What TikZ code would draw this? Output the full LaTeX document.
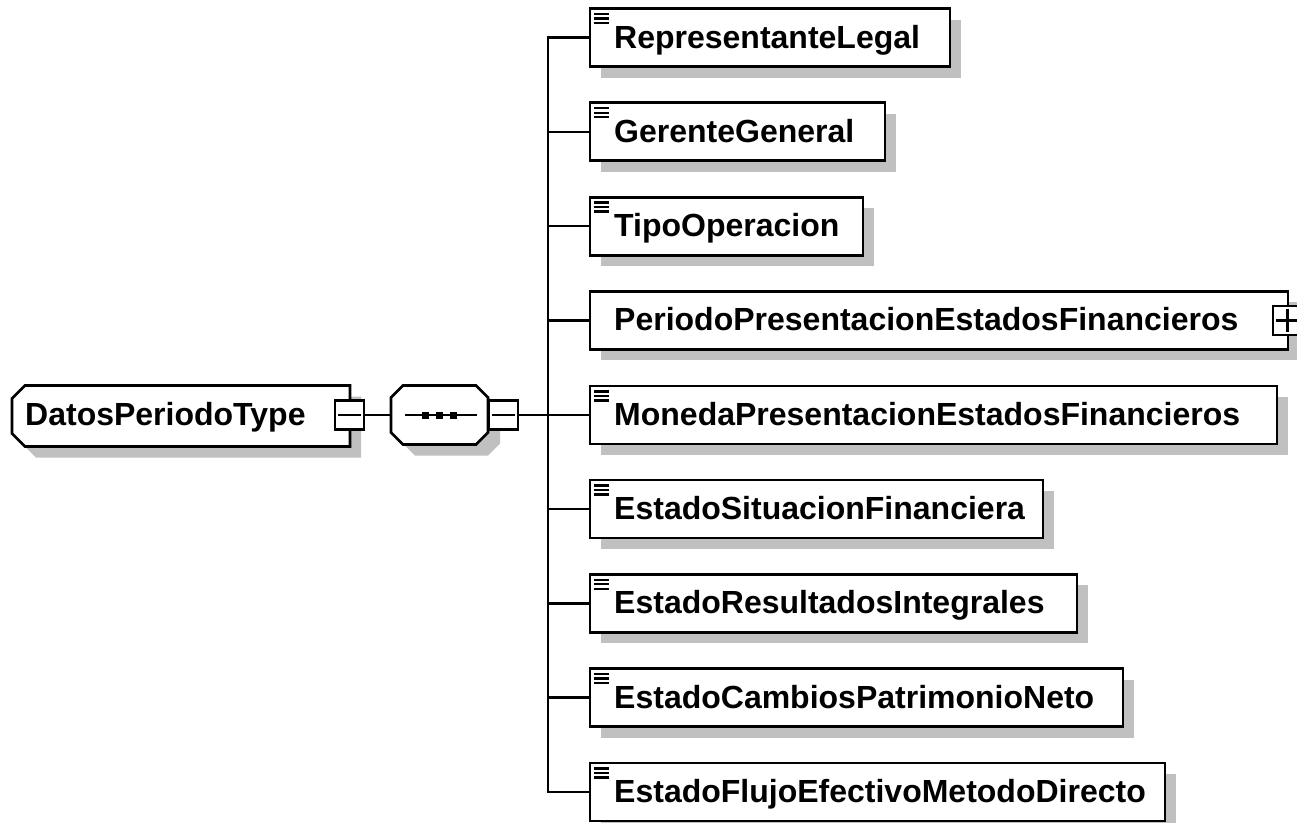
\documentclass[tikz,border=0pt]{standalone}
\usepackage{fontspec}
\setmainfont{Liberation Sans}
\usetikzlibrary{shadows}
\definecolor{shgray}{HTML}{C0C0C0}
\tikzset{
  shd/.style={drop shadow={shadow xshift=11pt,shadow yshift=-11pt,fill=shgray,opacity=1}},
  elbox/.style={draw, fill=white, line width=2.8pt, rectangle, inner sep=0pt, outer sep=0pt, minimum height=58pt, anchor=west, shd},
  hold/.style={draw=none, rectangle, inner sep=0pt, outer sep=0pt},
  outl/.style={draw, fill=white, line width=2.8pt},
  shfill/.style={fill=shgray},
  ctrl/.style={draw, fill=white, line width=2.6pt, rectangle, inner sep=0pt, outer sep=0pt, minimum width=29pt, minimum height=29pt},
  lbl/.style={anchor=base west, inner sep=0pt, font=\fontsize{32}{36}\selectfont\bfseries},
  conn/.style={line width=2.5pt},
  icon/.style={line width=2.3pt},
}
% chamfered outline of the root (left corners cut), offset #1,#2, style #3
\newcommand\rootshape[3]{\path[#3]
  ([shift={(#1,#2)}]rootbox.north east) -- ([shift={(#1+13,#2)}]rootbox.north west)
  -- ([shift={(#1,#2+13)}]rootbox.north west) -- ([shift={(#1,#2-13)}]rootbox.south west)
  -- ([shift={(#1+13,#2)}]rootbox.south west) -- ([shift={(#1,#2)}]rootbox.south east) -- cycle;}
% octagon of the sequence compositor
\newcommand\seqshape[3]{\path[#3]
  ([shift={(#1-12,#2)}]seq.north east) -- ([shift={(#1+12,#2)}]seq.north west)
  -- ([shift={(#1,#2+12)}]seq.north west) -- ([shift={(#1,#2-12)}]seq.south west)
  -- ([shift={(#1+12,#2)}]seq.south west) -- ([shift={(#1-12,#2)}]seq.south east)
  -- ([shift={(#1,#2-12)}]seq.south east) -- ([shift={(#1,#2+12)}]seq.north east) -- cycle;}
\begin{document}
\begin{tikzpicture}[x=1pt,y=-1pt]
\useasboundingbox (0,0) rectangle (1297,822);
% root element
\node[hold, minimum width=338pt, minimum height=61pt] (rootbox) at (181,416) {};
\rootshape{11}{11}{shfill}
\rootshape{0}{0}{outl}
\node[lbl] (rootl) at (25,425) {DatosPeriodoType};
\node[ctrl] (rm) at (349.5,415) {};
\draw[conn] ([xshift=3pt]rm.west) -- ([xshift=-3pt]rm.east);
% sequence compositor
\node[hold, minimum width=97pt, minimum height=59pt] (seq) at (439.5,415) {};
\seqshape{12}{11}{shfill}
\seqshape{0}{0}{outl}
\draw[conn] ([xshift=14pt]seq.west) -- ([xshift=-11pt]seq.east);
\foreach \dx in {-14,0,14} {
  \fill ([shift={(\dx-3.5,-3.5)}]seq.center) rectangle ++(7,7);
}
\node[ctrl] (sm) at (503.5,415) {};
\draw[conn] ([xshift=3pt]sm.west) -- ([xshift=-3pt]sm.east);
\coordinate (j) at (548,415);
% children
\node[elbox, minimum width=360pt] (c1) at (590,37.5) {};
\node[elbox, minimum width=295pt] (c2) at (590,131.8) {};
\node[elbox, minimum width=273pt] (c3) at (590,226.1) {};
\node[elbox, minimum width=698pt] (c4) at (590,320.4) {};
\node[elbox, minimum width=687pt] (c5) at (590,415) {};
\node[elbox, minimum width=453pt] (c6) at (590,509) {};
\node[elbox, minimum width=487pt] (c7) at (590,603.3) {};
\node[elbox, minimum width=533pt] (c8) at (590,697.6) {};
\node[elbox, minimum width=575pt] (c9) at (590,791.9) {};
\node[ctrl] (pp) at (1287.5,320.4) {};
\draw[conn] ([xshift=3pt]pp.west) -- ([xshift=-3pt]pp.east);
\draw[conn] ([yshift=-3pt]pp.north) -- ([yshift=3pt]pp.south);
% labels
\node[lbl] (c1l) at (614,48) {RepresentanteLegal};
\node[lbl] (c2l) at (614,142.3) {GerenteGeneral};
\node[lbl] (c3l) at (614,236.6) {TipoOperacion};
\node[lbl] (c4l) at (614,330.9) {PeriodoPresentacionEstadosFinancieros};
\node[lbl] (c5l) at (614,425.5) {MonedaPresentacionEstadosFinancieros};
\node[lbl] (c6l) at (614,519.5) {EstadoSituacionFinanciera};
\node[lbl] (c7l) at (614,613.8) {EstadoResultadosIntegrales};
\node[lbl] (c8l) at (614,708.1) {EstadoCambiosPatrimonioNeto};
\node[lbl] (c9l) at (614,802.4) {EstadoFlujoEfectivoMetodoDirecto};
% simple-content icons
\foreach \i in {1,2,3,5,6,7,8,9} {
  \foreach \dy in {5.5,10,14.5} {
    \draw[icon] ([shift={(4,\dy)}]c\i.north west) -- ++(15,0);
  }
}
% connectors
\draw[conn] (rm.east) -- (seq.west);
\draw[conn] (sm.east) -- (j);
\foreach \i in {1,...,9} {
  \draw[conn] (j) |- (c\i.west);
}
\end{tikzpicture}
\end{document}
